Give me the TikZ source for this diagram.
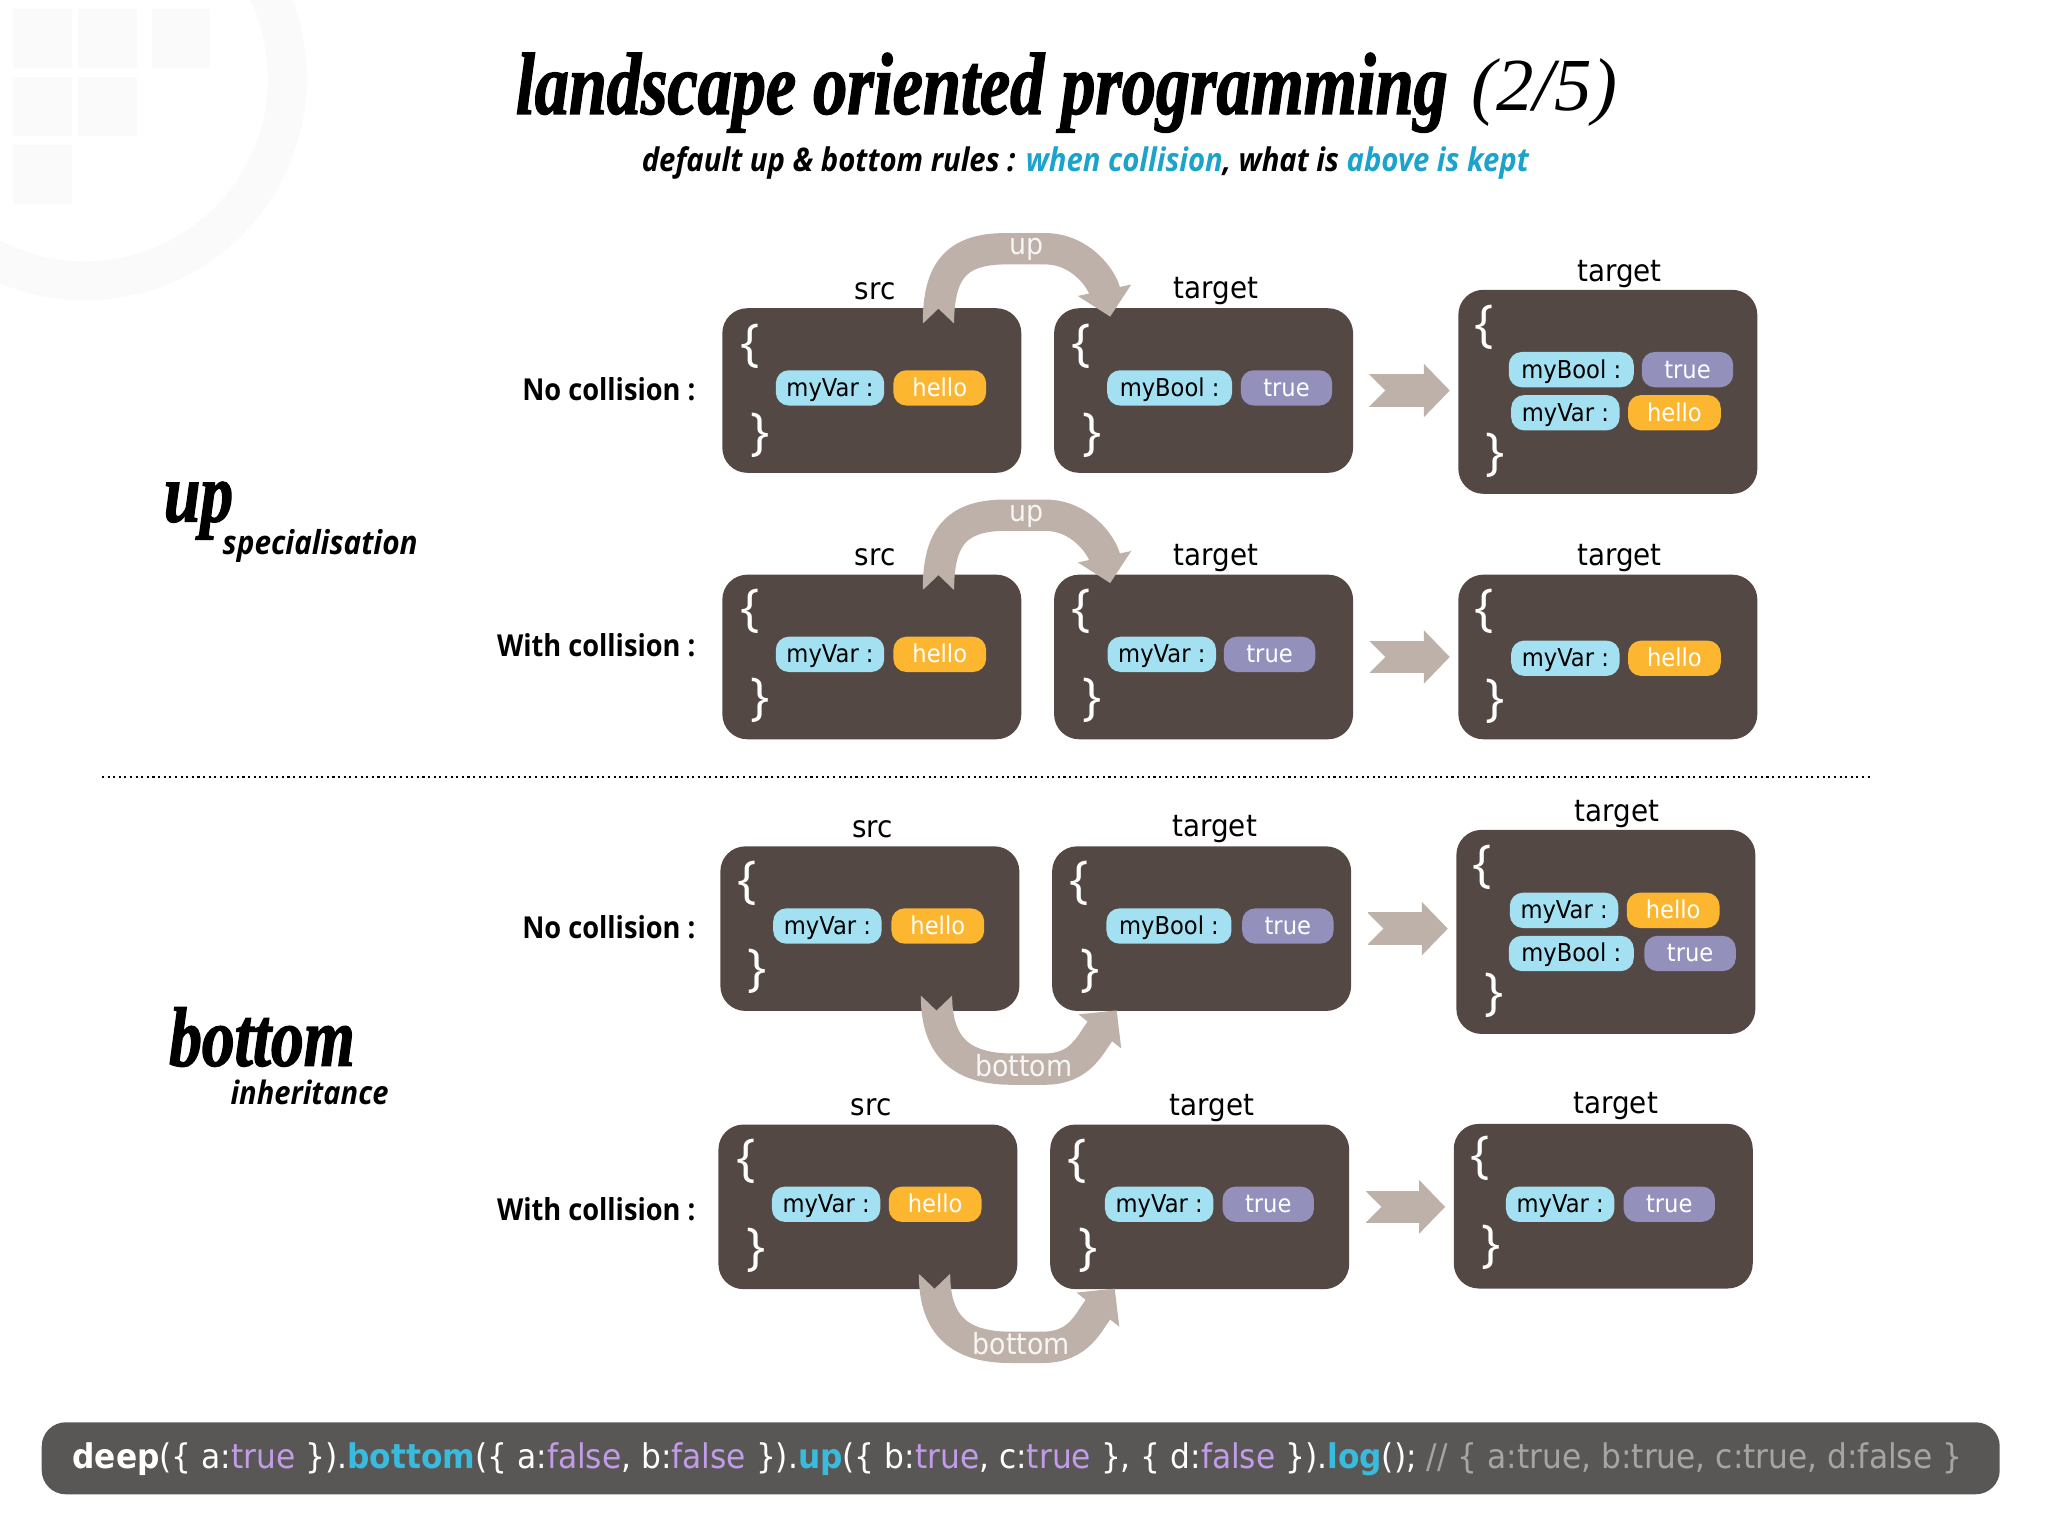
\documentclass[tikz,border=0pt]{standalone}
\usepackage{fontspec}
\usetikzlibrary{arrows.meta,calc}
\newfontfamily\titlefont[FakeStretch=0.776,FakeBold=1.5]{Liberation Serif}
\newfontfamily\pagefont{Liberation Serif}
\newfontfamily\headfont[FakeStretch=0.9]{Open Sans}
\newfontfamily\bracefont{Open Sans}
\newfontfamily\bodyfont[FakeStretch=0.92]{DejaVu Sans}
\definecolor{boxbrown}{HTML}{544845}
\definecolor{flowgray}{HTML}{BDB1AA}
\definecolor{keyblue}{HTML}{A3E0F1}
\definecolor{strorange}{HTML}{FDB62F}
\definecolor{boolpurple}{HTML}{9390BC}
\definecolor{subblue}{HTML}{1BA3CB}
\definecolor{barfill}{HTML}{595755}
\definecolor{codepurple}{HTML}{C29CE8}
\definecolor{codeblue}{HTML}{38BBDD}
\definecolor{codegray}{HTML}{A5A5A5}
\definecolor{markgray}{HTML}{FAFAFA}
\tikzset{
  objbox/.style={fill=boxbrown, rounded corners=0.25cm, minimum width=2.99cm, minimum height=1.646cm, inner sep=0pt},
  bigbox/.style={objbox, minimum height=2.04cm},
  pill/.style={rounded corners=0.13cm, minimum height=0.353cm, inner sep=0pt, text height=0.2cm, text depth=0.03cm, font=\bodyfont\fontsize{7}{8}\selectfont},
  keypill/.style={pill, fill=keyblue, text=black},
  varkey/.style={keypill, minimum width=1.084cm},
  boolkey/.style={keypill, minimum width=1.25cm},
  hellopill/.style={pill, fill=strorange, text=white, minimum width=0.927cm},
  truepill/.style={pill, fill=boolpurple, text=white, minimum width=0.914cm},
  bracket/.style={text=white, inner sep=0pt, font=\bracefont\fontsize{14.5}{15}\selectfont},
  boxname/.style={inner sep=0pt, font=\bodyfont\fontsize{8.6}{10}\selectfont},
  rowname/.style={anchor=east, inner sep=0pt, font=\headfont\bfseries\fontsize{8.6}{10}\selectfont},
  flowline/.style={draw=flowgray, line width=0.3135cm, -{Triangle[length=0.27cm,width=0.53cm]}},
  flowname/.style={text=white!88!flowgray, inner sep=0pt, font=\bodyfont\fontsize{8.3}{10}\selectfont},
  stepline/.style={draw=flowgray, line width=0.327cm, -{Triangle[length=0.26cm,width=0.52cm]}},
}
\begin{document}
\begin{tikzpicture}[x=0.013061cm, y=-0.013061cm]
\useasboundingbox (0,0) rectangle (1568,1176);
% faint mark in the corner
\begin{scope}
  \clip (0,0) rectangle (1568,1176);
  \draw[markgray, line width=0.39cm] (65,60) circle (155);
  \foreach \x/\y in {10/7, 60/7, 116/7, 10/59, 60/59, 10/111}
    \fill[markgray] (\x,\y) rectangle ++(45,45);
\end{scope}
% heading
\node[inner sep=0pt, anchor=east] (title) at (1109,71) {\titlefont\itshape\bfseries\fontsize{25}{30}\selectfont landscape oriented programming};
\node[inner sep=0pt, anchor=west] (part) at (1126,71) {\pagefont\itshape\fontsize{21.3}{26}\selectfont (2/5)};
\node[inner sep=0pt] (subtitle) at (831,125) {\headfont\bfseries\itshape\fontsize{9.26}{11}\selectfont default up \& bottom rules : \textcolor{subblue}{when collision}, what is \textcolor{subblue}{above is kept}};
\node[inner sep=0pt, anchor=west] (upword) at (125,391) {\titlefont\itshape\bfseries\fontsize{24}{28}\selectfont up};
\node[inner sep=0pt, anchor=west] (upsub) at (170,418) {\headfont\bfseries\itshape\fontsize{9.4}{11}\selectfont specialisation};
\node[inner sep=0pt, anchor=west] (bottomword) at (129,794) {\titlefont\itshape\bfseries\fontsize{24}{28}\selectfont bottom};
\node[inner sep=0pt, anchor=west] (bottomsub) at (176,836) {\headfont\bfseries\itshape\fontsize{9.2}{11}\selectfont inheritance};
% row names
\node[rowname] (rowA) at (533,298) {No collision :};
\node[rowname] (rowB) at (533,494) {With collision :};
\node[rowname] (rowC) at (533,710) {No collision :};
\node[rowname] (rowD) at (533,926) {With collision :};
% boxes
\node[objbox] (srcA) at (667.5,299) {};
\node[objbox] (tgtA) at (921.5,299) {};
\node[bigbox] (resA) at (1231,300) {};
\node[objbox] (srcB) at (667.5,503) {};
\node[objbox] (tgtB) at (921.5,503) {};
\node[objbox] (resB) at (1231,503) {};
\node[objbox] (srcC) at (666,711) {};
\node[objbox] (tgtC) at (920,711) {};
\node[bigbox] (resC) at (1229.5,713.5) {};
\node[objbox] (srcD) at (664.5,924) {};
\node[objbox] (tgtD) at (918.5,924) {};
\node[objbox] (resD) at (1227.5,923.5) {};
% names over the boxes
\foreach \b/\t/\x/\y in {srcA/src/670/223, tgtA/target/931/223, resA/target/1240/210,
    srcB/src/670/427, tgtB/target/931/427, resB/target/1240/427,
    srcC/src/668/635, tgtC/target/930/635, resC/target/1238/623,
    srcD/src/667/848, tgtD/target/928/848, resD/target/1237/847}
  \node[boxname] (name\b) at (\x,\y) {\t};
% braces
\foreach \b/\xa/\ya/\xb/\yb in {srcA/574/265/582/333, tgtA/828/265/836/333, resA/1136/251/1145/349,
    srcB/574/468/582/536, tgtB/828/468/836/536, resB/1136/468/1145/537,
    srcC/572/676/580/744, tgtC/826/676/835/744, resC/1135/664/1144/762,
    srcD/571/889/579/957, tgtD/825/889/833/957, resD/1133/887/1142/955}{
  \node[bracket] (open\b) at (\xa,\ya) {\{};
  \node[bracket] (close\b) at (\xb,\yb) {\}};
}
% pills
\node[varkey] (keyA) at (635.5,297) {myVar :};
\node[hellopill] (valA) at (719.5,297) {hello};
\node[boolkey] (keyA2) at (895.5,297) {myBool :};
\node[truepill] (valA2) at (985,297) {true};
\node[boolkey] (keyA3) at (1203,283) {myBool :};
\node[truepill] (valA3) at (1292,283) {true};
\node[varkey] (keyA4) at (1198.5,316) {myVar :};
\node[hellopill] (valA4) at (1282,316) {hello};
\node[varkey] (keyB) at (635.5,501) {myVar :};
\node[hellopill] (valB) at (719.5,501) {hello};
\node[varkey] (keyB2) at (889.5,501) {myVar :};
\node[truepill] (valB2) at (972,501) {true};
\node[varkey] (keyB3) at (1198.5,504) {myVar :};
\node[hellopill] (valB3) at (1282,504) {hello};
\node[varkey] (keyC) at (633.5,709) {myVar :};
\node[hellopill] (valC) at (718,709) {hello};
\node[boolkey] (keyC2) at (895,709) {myBool :};
\node[truepill] (valC2) at (986,709) {true};
\node[varkey] (keyC3) at (1197.5,697) {myVar :};
\node[hellopill] (valC3) at (1281,697) {hello};
\node[boolkey] (keyC4) at (1203,730) {myBool :};
\node[truepill] (valC4) at (1294,730) {true};
\node[varkey] (keyD) at (632.5,922) {myVar :};
\node[hellopill] (valD) at (716,922) {hello};
\node[varkey] (keyD2) at (887.5,922) {myVar :};
\node[truepill] (valD2) at (971,922) {true};
\node[varkey] (keyD3) at (1194.5,922) {myVar :};
\node[truepill] (valD3) at (1278,922) {true};
% flows between src and target
\foreach \s/\t in {srcA/tgtA, srcB/tgtB}{
  \draw[flowline] ($(\s.north)+(51,12)$) .. controls +(0,-40) and +(-38,0) .. ($(\s.north)+(102.5,-45)$) -- ($(\t.north)+(-121.5,-45)$) .. controls +(28,0) and +(-6,-28) .. ($(\t.north)+(-71.5,7)$);
  \fill[boxbrown] ($(\s.north)+(38.5,13)$) -- ($(\s.north)+(51,1)$) -- ($(\s.north)+(63.5,13)$) -- cycle;% tail
}
\foreach \s/\t in {srcC/tgtC, srcD/tgtD}{
  \draw[flowline] ($(\s.south)+(51,-12)$) .. controls +(0,40) and +(-38,0) .. ($(\s.south)+(109,44)$) -- ($(\t.south)+(-120,44)$) .. controls +(28,0) and +(-20,25) .. ($(\t.south)+(-65,-1)$);
  \fill[boxbrown] ($(\s.south)+(38.5,-13)$) -- ($(\s.south)+(51,-1)$) -- ($(\s.south)+(63.5,-13)$) -- cycle;% tail
}
\node[flowname] (flowA) at (786,191) {up};
\node[flowname] (flowB) at (786,395) {up};
\node[flowname] (flowC) at (784,816) {bottom};
\node[flowname] (flowD) at (782,1029) {bottom};
% steps to the result
\foreach \t/\r in {tgtA/resA, tgtB/resB, tgtC/resC, tgtD/resD}{
  \draw[stepline] ($(\t.east)+(12,0)$) -- ($(\r.west |- \t.east)+(-6,0)$);
  \fill[white] ($(\t.east)+(11,-13)$) -- ($(\t.east)+(24,0)$) -- ($(\t.east)+(11,13)$) -- cycle;% tail
}
% separator
\coordinate (sepL) at (78,595);
\coordinate (sepR) at (1433,595);
\draw[densely dotted, line width=0.6pt] (sepL) -- (sepR);
% code bar
\node[fill=barfill, rounded corners=0.24cm, minimum width=19.58cm, minimum height=0.72cm, inner sep=0pt] (bar) at (781.5,1116.5) {};
\node[anchor=west, inner sep=0pt, text=white, font=\bodyfont\fontsize{9.67}{12}\selectfont] (code) at (55,1117) {\textbf{deep}(\{ a:\textcolor{codepurple}{true} \}).\textcolor{codeblue}{\textbf{bottom}}(\{ a:\textcolor{codepurple}{false}, b:\textcolor{codepurple}{false} \}).\textcolor{codeblue}{\textbf{up}}(\{ b:\textcolor{codepurple}{true}, c:\textcolor{codepurple}{true} \}, \{ d:\textcolor{codepurple}{false} \}).\textcolor{codeblue}{\textbf{log}}(); \textcolor{codegray}{// \{ a:true, b:true, c:true, d:false \}}};
\end{tikzpicture}
\end{document}
